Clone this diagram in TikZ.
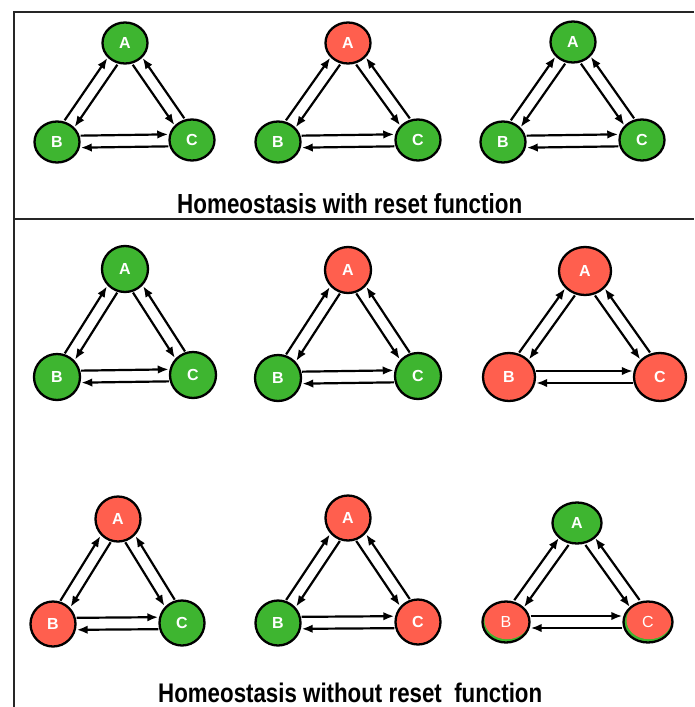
\documentclass[tikz,border=0pt]{standalone}
\usepackage{fontspec}
\usepackage{graphicx}
\setmainfont{Liberation Sans}
\usetikzlibrary{arrows.meta,shapes.geometric,calc}
\definecolor{ngreen}{RGB}{62,181,48}
\definecolor{nred}{RGB}{255,95,78}
\tikzset{
  nd/.style={ellipse, draw=black, line width=2.3pt, inner sep=0pt, text=white,
    font=\fontsize{16}{16}\selectfont\bfseries},
  gnode/.style={nd, fill=ngreen},
  rnode/.style={nd, fill=nred},
  rgnode/.style={nd, fill=ngreen, font=\fontsize{16}{16}\selectfont,
    path picture={\fill[nred] ([xshift=1pt,yshift=1.8pt]path picture bounding box.center)
      ellipse [x radius=22.5pt, y radius=19pt];}},
  sA/.style={minimum width=45pt, minimum height=41pt},
  sB/.style={minimum width=46pt, minimum height=46pt},
  sC/.style={minimum width=52pt, minimum height=48pt},
  sD/.style={minimum width=45pt, minimum height=45pt},
  sE/.style={minimum width=49pt, minimum height=41pt},
  arr/.style={-{Latex[length=11pt,width=8.5pt]}, line width=2.2pt, black},
  frame/.style={line width=2pt, black!85},
  title/.style={anchor=base west, inner sep=0pt, font=\bfseries, text=black},
}
\newcommand\twoway[3]{%
  \pgfmathanglebetweenpoints{\pgfpointanchor{#1}{center}}{\pgfpointanchor{#2}{center}}%
  \let\twang\pgfmathresult
  \draw[arr, transform canvas={shift={(\twang#3:6pt)}}] (#1) -- (#2);
  \draw[arr, transform canvas={shift={(\twang#3:-6pt)}}] (#2) -- (#1);
}
\newcommand\triarrows[1]{%
  \twoway{#1B}{#1A}{+90}%
  \twoway{#1A}{#1C}{-90}%
  \twoway{#1B}{#1C}{+90}%
}
\begin{document}
\begin{tikzpicture}[x=1pt,y=-1pt]
\useasboundingbox (0,0) rectangle (694,707);
% frame
\coordinate (fTR) at (694,12);
\coordinate (fTL) at (14,12);
\coordinate (fBL) at (14,707);
\coordinate (sL) at (14,219);
\coordinate (sR) at (694,219);
\draw[frame] (fTR) -- (fTL) -- (fBL);
\draw[frame] (sL) -- (sR);
% top row
\node[gnode,sA] (aA) at (125,43) {A};
\node[gnode,sA] (aB) at (57,142) {B};
\node[gnode,sA] (aC) at (192,140) {C};
\node[rnode,sA] (bA) at (348,43) {A};
\node[gnode,sA] (bB) at (278,142) {B};
\node[gnode,sA] (bC) at (418,140) {C};
\node[gnode,sA] (cA) at (573,42) {A};
\node[gnode,sA] (cB) at (503,142) {B};
\node[gnode,sA] (cC) at (642,140) {C};
\triarrows{a}\triarrows{b}\triarrows{c}
\node[title] (t1) at (177,213) {\resizebox{345pt}{20pt}{Homeostasis with reset function}};
% middle row
\node[gnode,sB] (dA) at (125,269) {A};
\node[gnode,sB] (dB) at (57,377) {B};
\node[gnode,sB] (dC) at (193,375) {C};
\node[rnode,sB] (eA) at (348,270) {A};
\node[gnode,sB] (eB) at (278,378) {B};
\node[gnode,sB] (eC) at (418,376) {C};
\node[rnode,sC] (fA) at (585,271) {A};
\node[rnode,sC] (fB) at (509,377) {B};
\node[rnode,sC] (fC) at (660,377) {C};
\triarrows{d}\triarrows{e}\triarrows{f}
% bottom row
\node[rnode,sD] (gA) at (118,519) {A};
\node[rnode,sD] (gB) at (53,624) {B};
\node[gnode,sD] (gC) at (182,623) {C};
\node[rnode,sD] (hA) at (348,518) {A};
\node[gnode,sD] (hB) at (278,623) {B};
\node[rnode,sD] (hC) at (418,622) {C};
\node[gnode,sE] (iA) at (577,523) {A};
\node[rgnode,sE,minimum width=47pt] (iB) at (506,622) {B};
\node[rgnode,sE] (iC) at (648,622) {C};
\triarrows{g}\triarrows{h}\triarrows{i}
\node[title] (t2) at (158,702) {\resizebox{384pt}{19.5pt}{Homeostasis without reset~ function}};
\end{tikzpicture}
\end{document}
